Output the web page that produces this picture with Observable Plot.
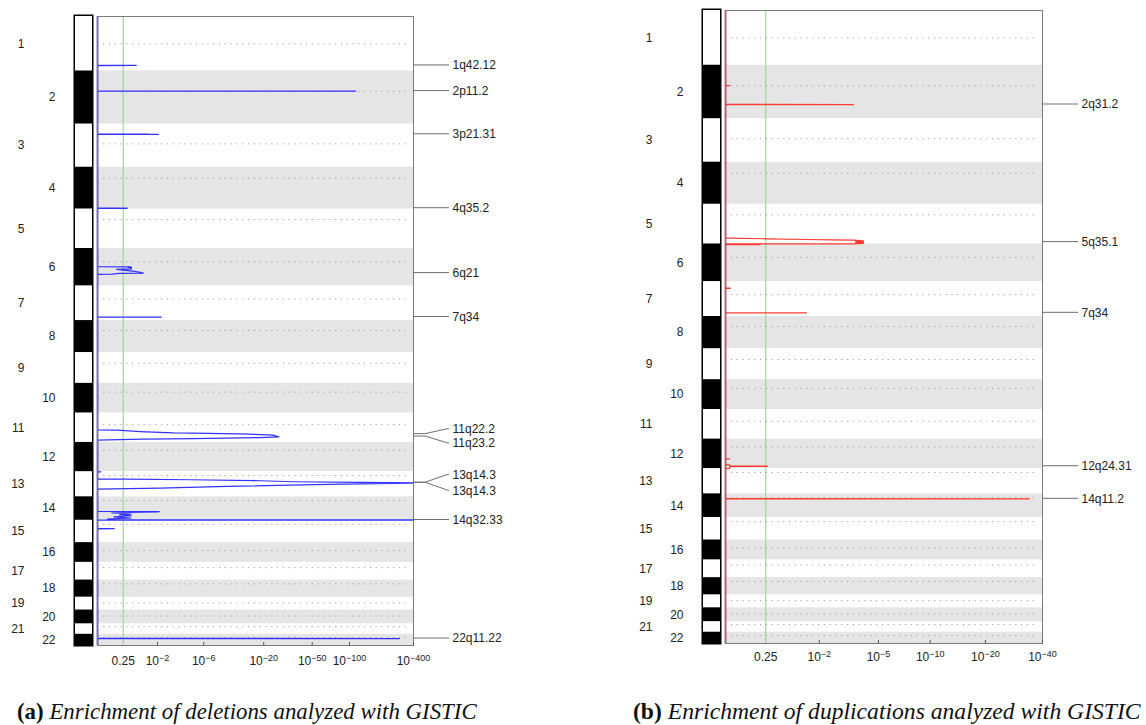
<!DOCTYPE html>
<html><head><meta charset="utf-8">
<script src="https://cdn.jsdelivr.net/npm/d3@7"></script>
<script src="https://cdn.jsdelivr.net/npm/@observablehq/plot@0.6"></script>
<style>
body{margin:0;background:#fff;width:1146px;height:725px;position:relative;overflow:hidden}
.panel{position:absolute;top:0}
.cap{position:absolute;font-family:"Liberation Serif","Times New Roman",serif;white-space:nowrap;color:#111;line-height:1}
.cap b{font-style:normal;font-weight:bold}
.cap i{font-style:italic}
</style></head><body>
<div id="a" class="panel" style="left:0"></div>
<div id="b" class="panel" style="left:573px"></div>
<div id="capA" class="cap"><b>(a)</b> <i>Enrichment of deletions analyzed with GISTIC</i></div>
<div id="capB" class="cap"><b>(b)</b> <i>Enrichment of duplications analyzed with GISTIC</i></div>
<script>
// ---------------- data ----------------
const chromosomes = ["1","2","3","4","5","6","7","8","9","10","11","12","13","14","15","16","17","18","19","20","21","22"];
const chromLengthMb = [249.25,243.2,198.0,191.15,180.9,171.1,159.1,146.4,141.2,135.5,135.0,133.9,115.2,107.35,102.5,90.35,81.2,78.1,59.1,63.0,48.1,51.3];
const centromereMb = [125.0,93.3,91.0,50.4,48.4,61.0,59.9,45.6,49.0,40.2,53.7,35.8,17.9,17.6,19.0,36.6,24.0,17.2,26.5,27.5,13.2,14.7];

// q-value threshold (green line)
const qThreshold = 0.25;

// deletion profile: [chromosome, position (Mb), -log10(q)]
const deletionProfile = [
 [1,223.6,0],[1,223.8,1.03],[1,224.4,1.03],[1,224.6,0],
 [2,91.8,0],[2,92.0,114],[2,92.6,114],[2,92.8,0],
 [3,46.2,0],[3,46.4,1.54],[3,46.9,1.54],[3,47.0,2.05],[3,47.5,2.05],[3,47.7,0],
 [4,187.3,0],[4,187.5,0.72],[4,188.0,0.72],[4,188.2,0],
 [6,83.5,0],[6,84.5,0.83],[6,86.0,0.86],[6,87.0,0.75],[6,89.0,0.86],[6,93.0,0.86],[6,95.8,0.42],[6,104.0,0.9],[6,110.0,1.25],[6,112.5,1.31],[6,113.5,1.31],[6,114.0,0.5],[6,117.5,0.3],[6,118.7,0],
 [7,142.5,0],[7,142.7,2.22],[7,143.2,2.22],[7,143.4,0],
 [11,77.4,0],[11,78.8,0.43],[11,85.2,1.19],[11,91.2,3.03],[11,92.5,4.82],[11,97.0,15.5],[11,101.6,24],[11,105.0,25],[11,109.4,26.7],[11,112.6,18.7],[11,117.2,4.8],[11,119.9,1.3],[11,124.5,0],
 [13,0.3,0],[13,0.5,0.06],[13,0.9,0.06],[13,1.1,0],
 [13,33.9,0],[13,34.2,0.71],[13,37.1,4.5],[13,41.7,18.8],[13,46.3,35.5],[13,49.5,127],[13,50.8,400],[13,52.2,400],[13,58.6,66],[13,67.7,9.7],[13,75.0,2.16],[13,79.6,0],
 [14,66.5,0],[14,67.5,2.1],[14,69.6,2.0],[14,74.2,0.3],[14,78.8,0.85],[14,82.0,0.5],[14,86.6,0.85],[14,92.0,0.35],[14,97.1,0.85],[14,101.7,0.2],[14,105.8,0.2],[14,106.0,400],[14,106.6,400],[14,106.8,0],
 [15,38.2,0],[15,38.4,0.36],[15,38.9,0.36],[15,39.1,0],
 [22,19.0,0],[22,19.2,295],[22,19.7,295],[22,19.9,0]
];
const deletionPeakNames = ["1q42.12","2p11.2","3p21.31","4q35.2","6q21","7q34","11q22.2","11q23.2","13q14.3","13q14.3","14q32.33","22q11.22"];
const deletionPeakChrom = [1,2,3,4,6,7,11,11,13,13,14,22];
const deletionPeakPosMb = [224.1,92.3,47.1,187.6,112.8,142.8,97.0,108.0,50.8,50.8,106.3,19.4];
const deletionLabelShift = [0,0,0,0,0,0,-5,7,-8,8,0,0];

// duplication profile: [chromosome, position (Mb), -log10(q)]
const duplicationProfile = [
 [2,91.8,0],[2,92.0,0.05],[2,92.6,0.05],[2,92.8,0],
 [2,178.3,0],[2,178.5,3.48],[2,179.0,3.48],[2,179.2,0],
 [5,154.4,0],[5,154.7,0.05],[5,157.4,0.63],[5,160.6,1.6],[5,162.0,2.5],[5,163.8,3.47],[5,166.5,4.03],[5,167.6,3.6],[5,168.7,4.03],[5,169.8,3.6],[5,170.9,4.03],[5,172.0,3.6],[5,173.1,4.03],[5,174.2,3.6],[5,175.3,4.03],[5,176.4,3.6],[5,177.5,4.03],[5,178.8,4.03],[5,180.2,3.47],[5,180.6,0],
 [6,1.8,0],[6,2.0,0.5],[6,3.0,0.5],[6,3.2,0],
 [7,30.0,0],[7,30.2,0.06],[7,30.8,0.06],[7,31.0,0],
 [7,141.9,0],[7,142.1,1.58],[7,142.6,1.58],[7,142.8,0],
 [12,89.2,0],[12,89.4,0.05],[12,89.9,0.05],[12,90.1,0],
 [12,116.7,0],[12,117.0,0.05],[12,123.0,0.05],[12,123.1,0.635],[12,123.6,0.635],[12,123.7,0.05],[12,133.5,0.05],[12,133.8,0],
 [14,22.0,0],[14,22.2,34.2],[14,22.8,34.2],[14,23.0,0]
];
const duplicationPeakNames = ["2q31.2","5q35.1","7q34","12q24.31","14q11.2"];
const duplicationPeakChrom = [2,5,7,12,14];
const duplicationPeakPosMb = [178.6,172.5,142.3,123.3,22.5];
const duplicationLabelShift = [0,0,0,0,0];

// x ticks given as -log10(q)
const ticksA = [0.60206,2,6,20,50,100,400];
const tickLabelsA = ["0.25","10^−2","10^−6","10^−20","10^−50","10^−100","10^−400"];
const ticksB = [0.60206,2,5,10,20,40];
const tickLabelsB = ["0.25","10^−2","10^−5","10^−10","10^−20","10^−40"];

// ---------------- derived ----------------
const cumStart = [];
chromLengthMb.forEach((L,i)=>cumStart.push(i ? cumStart[i-1]+chromLengthMb[i-1] : 0));
const genomeMb = cumStart[21] + chromLengthMb[21];
const cum = (c,p) => cumStart[c-1] + p;
const idx = chromosomes.map((_,i)=>i);
const oddIdx = idx.filter(i=>i%2===0);
const evenIdx = idx.filter(i=>i%2===1);
// axis transform used by the GISTIC plot: log(1 + (-log10 q))
const tx = v => Math.log(1 + v);

function rows(profile){
  const r = [{cum:0, v:0}];
  profile.forEach(([c,p,v])=>r.push({cum:cum(c,p), v}));
  r.push({cum:genomeMb, v:0});
  r.sort((a,b)=>a.cum-b.cum);
  return r;
}

function makePanel(o){
  const W = 573, H = 680;
  const plotH = H - o.marginTop - o.marginBottom;
  const xDomain = o.vDomain.map(tx);
  const xMax = xDomain[xDomain.length-1];
  const tickX = o.ticks.map(tx);
  const labelMap = new Map(tickX.map((t,i)=>[t, o.tickLabels[i]]));
  const zero = () => 0;
  const leaders = (index, scales, values, dim) => {
    const xr = dim.width - dim.marginRight;
    const g = d3.create("svg:g").attr("fill","none").attr("stroke","#6e6e6e").attr("stroke-width",1);
    o.chroms.forEach((c,i)=>{
      const y0 = scales.y(cum(c, o.poss[i]));
      const y1 = y0 + o.shifts[i];
      g.append("path").attr("d", o.shifts[i] ? `M${xr},${y0}H${xr+12}L${xr+35},${y1}H${xr+36}` : `M${xr},${y0}H${xr+36}`);
    });
    return g.node();
  };
  const labelMarks = o.names.map((name,i)=>Plot.text([0], {
    x: () => xMax, y: () => cum(o.chroms[i], o.poss[i]), text: () => name,
    dx: 39, dy: o.shifts[i], textAnchor: "start", fill: "#222", fontSize: 12
  }));
  const chart = Plot.plot({
    width: W, height: H,
    marginLeft: o.marginLeft, marginRight: o.marginRight, marginTop: o.marginTop, marginBottom: o.marginBottom,
    x: {type: "linear", domain: xDomain, range: o.xRange},
    y: {domain: [0, genomeMb], reverse: true, axis: null},
    style: {fontFamily: "'Liberation Sans', Arial, sans-serif", fontSize: "12px", background: "transparent", overflow: "visible"},
    marks: [
      Plot.rect(evenIdx, {x1: zero, x2: () => xMax, y1: i => cumStart[i], y2: i => cumStart[i]+chromLengthMb[i], fill: "#e5e5e5"}),
      Plot.ruleY(idx, {y: i => cumStart[i]+centromereMb[i], stroke: "#a0a0a0", strokeWidth: 1, strokeDasharray: "1.2,4.6", insetLeft: 6, insetRight: 4}),
      Plot.ruleX([qThreshold], {x: q => tx(-Math.log10(q)), stroke: "#a2d39a", strokeWidth: 1.2}),
      Plot.line(rows(o.profile), {x: d => tx(d.v), y: "cum", stroke: o.color, strokeWidth: 1.2, clip: true}),
      Plot.ruleX([0], {x: zero, stroke: o.baseColor, strokeWidth: 1.5}),
      Plot.frame({stroke: "#7a7a7a", strokeWidth: 1}),
      Plot.tickX(tickX.slice(1), {x: t => t, insetTop: plotH - 3, stroke: "#555"}),
      Plot.axisX({ticks: tickX, tickFormat: d => labelMap.get(d), tickSize: 0, tickPadding: o.tickPadding, fill: "#222", label: null, fontSize: 12}),
      Plot.ruleX([0], {x: zero, y1: () => 0, y2: () => genomeMb, dx: -14, stroke: "#000", strokeWidth: 20, insetTop: -1.5, insetBottom: -1.5}),
      Plot.ruleX(oddIdx, {x: zero, y1: i => cumStart[i], y2: i => cumStart[i]+chromLengthMb[i], dx: -14, stroke: "#fff", strokeWidth: 17}),
      Plot.text(oddIdx, {x: zero, y: i => cumStart[i]+chromLengthMb[i]/2, text: i => chromosomes[i], dx: -73, textAnchor: "end", fill: "#222", fontSize: 12}),
      Plot.text(evenIdx, {x: zero, y: i => cumStart[i]+chromLengthMb[i]/2, text: i => chromosomes[i], dx: -42, textAnchor: "end", fill: "#222", fontSize: 12}),
      leaders,
      ...labelMarks
    ]
  });
  // tick labels: 12px, with superscript exponents
  d3.select(chart).selectAll('g[aria-label="x-axis tick label"]').attr("font-size", 12)
    .selectAll("text").attr("font-size", 12).style("font-size", "12px");
  d3.select(chart).selectAll("text").each(function(){
    const t = this.textContent;
    if (t.includes("^")) {
      const [base, exp] = t.split("^");
      const sel = d3.select(this);
      sel.text(null);
      sel.append("tspan").attr("font-size", "12px").text(base);
      sel.append("tspan").attr("dy","-0.5em").attr("font-size","9px").text(exp);
    }
  });
  return chart;
}

document.getElementById("a").appendChild(makePanel({
  profile: deletionProfile, color: "#3232ff", baseColor: "#00007a",
  names: deletionPeakNames, chroms: deletionPeakChrom, poss: deletionPeakPosMb, shifts: deletionLabelShift,
  ticks: ticksA, tickLabels: tickLabelsA,
  vDomain: [0, 100, 400], xRange: [97, 349, 413],
  marginLeft: 97, marginRight: 160, marginTop: 16, marginBottom: 35, tickPadding: 11
}));
document.getElementById("b").appendChild(makePanel({
  profile: duplicationProfile, color: "#ff3a30", baseColor: "#7a0000",
  names: duplicationPeakNames, chroms: duplicationPeakChrom, poss: duplicationPeakPosMb, shifts: duplicationLabelShift,
  ticks: ticksB, tickLabels: tickLabelsB,
  vDomain: [0, 40], xRange: undefined,
  marginLeft: 152, marginRight: 104, marginTop: 10, marginBottom: 37, tickPadding: 9
}));

// captions fitted to the reference widths
function fitCaption(id, left, right, baseline){
  const el = document.getElementById(id);
  el.style.fontSize = "20px";
  const w = el.getBoundingClientRect().width;
  const s = 20 * (right - left) / w;
  el.style.fontSize = s + "px";
  el.style.left = left + "px";
  el.style.top = (baseline - 0.8375 * s) + "px";
}
fitCaption("capA", 17, 477, 720);
fitCaption("capB", 633, 1141, 720);
</script></body></html>
